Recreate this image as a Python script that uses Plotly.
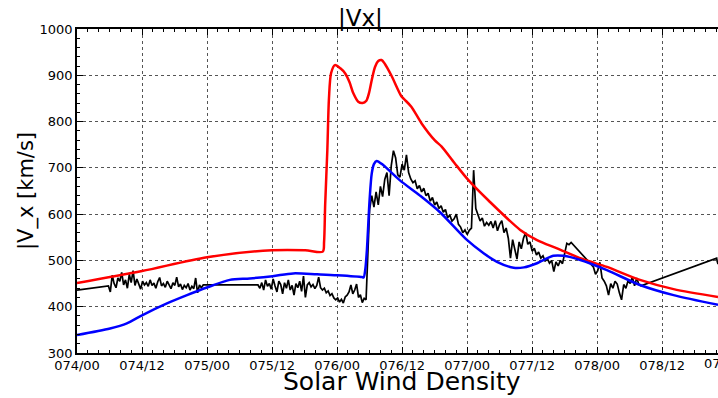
import numpy as np
import plotly.graph_objects as go

# Time axis: hours since day 074, 00 UT
tick_hours = [0, 12, 24, 36, 48, 60, 72, 84, 96, 108, 120]
tick_labels = ["074/00", "074/12", "075/00", "075/12", "076/00", "076/12",
               "077/00", "077/12", "078/00", "078/12", "079/00"]
X_END = 118.3

# Model run A (red)
red_t = [0, 12, 24, 36, 42.1, 45.36, 45.6, 45.8, 46.2, 46.5, 46.9, 47.6, 48.6,
         49.5, 50.3, 51.0, 51.9, 52.7, 53.4, 53.9, 54.4, 55.0, 55.6, 56.2, 56.8,
         58.0, 59.9, 60.5, 61.7, 63.6, 66.0, 67.3, 69.7, 72.2, 75.9, 81.8,
         84.9, 88.6, 93.5, 97.8, 103.9, 110.1, 118.3]
red_v = [451, 477, 507, 522, 522, 519, 540, 620, 738, 850, 905, 922, 915,
         904, 885, 861, 843, 840, 845, 862, 890, 918, 931, 933, 925,
         900, 854, 847, 832, 796, 760, 746, 710, 674, 630, 566,
         544, 526, 502, 486, 458, 438, 421]

# Model run B (blue)
blue_t = [0, 6.1, 9.2, 12.1, 16.6, 20.3, 24.1, 28.2, 31.9, 36.1, 39.9, 44.3,
          48.0, 52.6, 52.9, 53.2, 53.5, 54.0, 54.4, 54.8, 55.3, 56.5, 59.6,
          63.3, 67.0, 71.8, 75.1, 77.5, 80.6, 82.5, 84.9, 87.9, 89.8, 92.9,
          97.8, 103.9, 110.1, 118.3]
blue_v = [339, 353, 364, 382, 407, 425, 442, 458, 461, 466, 472, 470,
          468, 464, 463, 480, 522, 631, 688, 708, 715, 706, 673,
          640, 604, 546, 515, 497, 484, 485, 494, 510, 510, 501,
          479, 447, 425, 404]

# Observed |Vx| (black), stored as sampled segments: (start hour, cadence, values)
obs_lead_t = [0.0]
obs_lead_v = [436]

obs_seg1 = (5.8, 0.35, [
    445, 432, 468, 450, 441, 462, 455, 474, 447, 458,
    440, 470, 452, 478, 446, 460, 449, 438, 455, 447,
    452, 444, 458, 446, 451, 440, 454, 463, 445, 450,
    442, 455, 447, 439, 452, 446, 464, 443, 449, 437,
    446, 441, 450, 436, 444, 439, 462, 430, 447, 441,
    447])

obs_seg2 = (33.4, 0.35, [
    447, 440, 452, 436, 458, 444, 450, 438,
    460, 445, 432, 455, 448, 428, 452, 440, 458, 436, 446, 425, 450, 441, 455, 433,
    466, 420, 447,
    452, 443, 448, 439, 446, 464, 441,
    436, 440, 430, 434, 424, 428, 419,
    415, 419, 410, 416, 408, 421,
    425, 432, 447, 428, 436, 449, 420, 426, 409,
    418, 415])

obs_seg3 = (53.6, 0.4, [
    500, 610, 640, 615, 648, 620, 660, 638, 675, 690,
    640, 705, 737, 722, 685, 680, 708, 695, 728, 690,
    676, 668, 672, 655, 662, 648, 656, 640, 645, 628,
    636, 620, 626, 612, 618, 604, 610, 592, 598, 585,
    590, 600, 578, 572, 560, 566, 556, 565, 570, 695,
    612, 600, 585, 592, 574, 582, 576, 584, 570, 586,
    564, 578, 586, 560, 570, 548, 505, 545, 520, 503,
    540, 525, 548, 560, 535, 540, 520, 526, 512, 518,
    505, 510, 498, 504, 494, 500, 476, 497, 488, 500,
    493, 515, 537, 534, 539])

obs_seg4 = (95.3, 0.4, [
    486, 470, 478, 496, 462, 455, 445, 425, 450, 440,
    455, 449, 430, 415, 448, 440, 456, 450, 464, 445,
    462, 448, 445])

obs_tail_t = [118.05, 118.15, 118.3]
obs_tail_v = [505, 498, 492]


def expand(seg):
    t0, step, vals = seg
    return list(t0 + step * np.arange(len(vals))), list(vals)


obs_t, obs_v = list(obs_lead_t), list(obs_lead_v)
for seg in (obs_seg1, obs_seg2, obs_seg3, obs_seg4):
    t, v = expand(seg)
    obs_t += t
    obs_v += v
obs_t += obs_tail_t
obs_v += obs_tail_v

FONT = "DejaVu Sans"

fig = go.Figure()
fig.add_trace(go.Scatter(x=obs_t, y=obs_v, mode="lines",
                         line=dict(color="black", width=1.7), showlegend=False))
fig.add_trace(go.Scatter(x=red_t, y=red_v, mode="lines",
                         line=dict(color="#ff0000", width=2.5, shape="spline",
                                   smoothing=0.8),
                         showlegend=False))
fig.add_trace(go.Scatter(x=blue_t, y=blue_v, mode="lines",
                         line=dict(color="#0000ff", width=2.5, shape="spline",
                                   smoothing=0.8),
                         showlegend=False))

axis_common = dict(
    showline=True, linecolor="black", linewidth=1.5,
    showgrid=True, gridcolor="#555555", griddash="dot", gridwidth=1,
    ticks="inside", ticklen=6, tickwidth=1, tickcolor="black",
    tickfont=dict(family=FONT, size=13, color="black"),
    zeroline=False,
)

fig.update_xaxes(
    range=[0, X_END], tickmode="array", tickvals=tick_hours, ticktext=tick_labels,
    mirror="ticks",
    minor=dict(tickmode="linear", tick0=0, dtick=2, ticks="inside",
               ticklen=3, tickcolor="black", showgrid=False),
    **axis_common,
)
fig.update_yaxes(
    range=[300, 1000], tickmode="linear", tick0=300, dtick=100,
    minor=dict(tickmode="linear", tick0=300, dtick=20, ticks="inside",
               ticklen=3, tickcolor="black", showgrid=False),
    **axis_common,
)

L, T, B = 77, 29, 45
W, H = 718, 398
plot_w = W - L
hour_to_paper = 1.0 / X_END

annotations = [
    dict(text="|Vx|", x=(360 - L) / plot_w, y=1, xref="paper", yref="paper",
         xanchor="center", yanchor="bottom", showarrow=False, yshift=-4,
         font=dict(family=FONT, size=23, color="black")),
    dict(text="Solar Wind Density", x=(401.5 - L) / plot_w, y=0, xref="paper",
         yref="paper", xanchor="center", yanchor="bottom", showarrow=False,
         yshift=-B, font=dict(family=FONT, size=25, color="black")),
    dict(text="|V_x [km/s]", x=(26 - L) / plot_w, y=0.5, xref="paper",
         yref="paper", xanchor="center", yanchor="middle", textangle=-90,
         showarrow=False, font=dict(family=FONT, size=21, color="black")),
    # label of the next day tick, which sits just past the right edge
    dict(text=tick_labels[-1], x=tick_hours[-1] * hour_to_paper, y=0,
         xref="paper", yref="paper", xanchor="center", yanchor="top",
         showarrow=False, yshift=-1,
         font=dict(family=FONT, size=13, color="black")),
]

fig.update_layout(
    width=W, height=H,
    margin=dict(l=L, r=0, t=T, b=B, pad=0),
    paper_bgcolor="white", plot_bgcolor="white",
    annotations=annotations,
    showlegend=False,
)

fig.write_html("out.html")
